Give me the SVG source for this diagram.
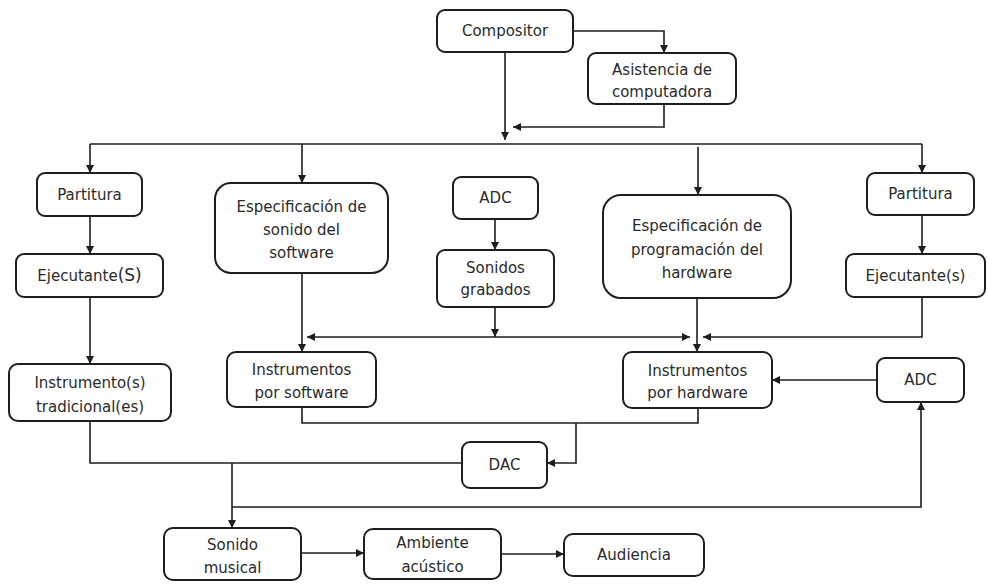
<svg xmlns="http://www.w3.org/2000/svg" width="987" height="584" viewBox="0 0 987 584">
  <style>
    .box { fill: #ffffff; stroke: #1e1e1e; stroke-width: 2; }
    .lbl { font-family: "DejaVu Sans", "Liberation Sans", sans-serif; font-size: 15px; fill: #2a2a2a; text-anchor: middle; }
    .wire { fill: none; stroke: #1e1e1e; stroke-width: 1.6; }
    .arr { marker-end: url(#head); }
  </style>
  <defs>
    <marker id="head" viewBox="0 0 10 10" refX="10" refY="5" markerWidth="9" markerHeight="8" markerUnits="userSpaceOnUse" orient="auto">
      <path d="M0,0 L10,5 L0,10 z" fill="#1e1e1e"/>
    </marker>
  </defs>
  <rect width="987" height="584" fill="#ffffff"/>

  <g id="connectors">
    <path class="wire arr" d="M573,31 H664 V53"/>
    <path class="wire arr" d="M505,52 V140"/>
    <path class="wire arr" d="M664,104 V127 H513"/>
    <path class="wire" d="M90,144 H922"/>
    <path class="wire arr" d="M90,144 V173"/>
    <path class="wire arr" d="M302,144 V183"/>
    <path class="wire arr" d="M698,147 V195"/>
    <path class="wire arr" d="M922,144 V173"/>
    <path class="wire arr" d="M90,216 V254"/>
    <path class="wire arr" d="M90,297 V364"/>
    <path class="wire arr" d="M302,273 V352"/>
    <path class="wire arr" d="M495,219 V250"/>
    <path class="wire arr" d="M495,307 V337"/>
    <path class="wire arr" d="M495,337 H307"/>
    <path class="wire arr" d="M495,337 H690"/>
    <path class="wire arr" d="M922,215 V254"/>
    <path class="wire arr" d="M922,297 V337 H703"/>
    <path class="wire arr" d="M697,298 V352"/>
    <path class="wire arr" d="M877,380 H772"/>
    <path class="wire" d="M302,407 V423 H698 V408"/>
    <path class="wire arr" d="M576,423 V463 H547"/>
    <path class="wire" d="M90,421 V463 H462"/>
    <path class="wire arr" d="M232,463 V528"/>
    <path class="wire arr" d="M232,507 H921 V402"/>
    <path class="wire arr" d="M301,553 H364"/>
    <path class="wire arr" d="M501,554 H564"/>
  </g>

  <g id="compositor">
    <rect class="box" x="437" y="10" width="136" height="42" rx="8"/>
    <text class="lbl" x="505" y="36">Compositor</text>
  </g>
  <g id="asistencia">
    <rect class="box" x="588" y="53" width="148" height="51" rx="8"/>
    <text class="lbl" x="662" y="75">Asistencia de</text>
    <text class="lbl" x="662" y="97">computadora</text>
  </g>
  <g id="partitura-izq">
    <rect class="box" x="37" y="173" width="105" height="43" rx="8"/>
    <text class="lbl" x="89.5" y="200">Partitura</text>
  </g>
  <g id="ejecutante-izq">
    <rect class="box" x="16" y="254" width="147" height="43" rx="8"/>
    <text class="lbl" x="89.5" y="281">Ejecutante<tspan font-size="17">(S)</tspan></text>
  </g>
  <g id="esp-software">
    <rect class="box" x="215" y="183" width="173" height="90" rx="16"/>
    <text class="lbl" x="301.5" y="212">Especificación de</text>
    <text class="lbl" x="301.5" y="235">sonido del</text>
    <text class="lbl" x="301.5" y="258">software</text>
  </g>
  <g id="adc-grabacion">
    <rect class="box" x="453" y="177" width="85" height="42" rx="8"/>
    <text class="lbl" x="495.5" y="203">ADC</text>
  </g>
  <g id="sonidos-grabados">
    <rect class="box" x="437" y="250" width="117" height="57" rx="8"/>
    <text class="lbl" x="495.5" y="273">Sonidos</text>
    <text class="lbl" x="495.5" y="295">grabados</text>
  </g>
  <g id="esp-hardware">
    <rect class="box" x="603" y="195" width="188" height="103" rx="18"/>
    <text class="lbl" x="697" y="231">Especificación de</text>
    <text class="lbl" x="697" y="255">programación del</text>
    <text class="lbl" x="697" y="278">hardware</text>
  </g>
  <g id="partitura-der">
    <rect class="box" x="867" y="173" width="107" height="42" rx="8"/>
    <text class="lbl" x="920.5" y="199">Partitura</text>
  </g>
  <g id="ejecutante-der">
    <rect class="box" x="846" y="254" width="139" height="43" rx="8"/>
    <text class="lbl" x="915.5" y="281">Ejecutante(s)</text>
  </g>
  <g id="instr-tradicional">
    <rect class="box" x="9" y="364" width="162" height="57" rx="9"/>
    <text class="lbl" x="90" y="388">Instrumento(s)</text>
    <text class="lbl" x="90" y="412">tradicional(es)</text>
  </g>
  <g id="instr-software">
    <rect class="box" x="227" y="352" width="149" height="55" rx="9"/>
    <text class="lbl" x="301.5" y="375">Instrumentos</text>
    <text class="lbl" x="301.5" y="398">por software</text>
  </g>
  <g id="instr-hardware">
    <rect class="box" x="623" y="352" width="149" height="56" rx="9"/>
    <text class="lbl" x="697.5" y="376">Instrumentos</text>
    <text class="lbl" x="697.5" y="398">por hardware</text>
  </g>
  <g id="adc-entrada">
    <rect class="box" x="877" y="358" width="87" height="44" rx="8"/>
    <text class="lbl" x="920.5" y="385">ADC</text>
  </g>
  <g id="dac">
    <rect class="box" x="462" y="442" width="85" height="46" rx="8"/>
    <text class="lbl" x="504.5" y="470">DAC</text>
  </g>
  <g id="sonido-musical">
    <rect class="box" x="164" y="528" width="137" height="52" rx="9"/>
    <text class="lbl" x="232.5" y="550">Sonido</text>
    <text class="lbl" x="232.5" y="573">musical</text>
  </g>
  <g id="ambiente-acustico">
    <rect class="box" x="364" y="529" width="137" height="50" rx="9"/>
    <text class="lbl" x="432.5" y="548">Ambiente</text>
    <text class="lbl" x="432.5" y="572">acústico</text>
  </g>
  <g id="audiencia">
    <rect class="box" x="564" y="534" width="140" height="42" rx="9"/>
    <text class="lbl" x="634" y="560">Audiencia</text>
  </g>
</svg>
